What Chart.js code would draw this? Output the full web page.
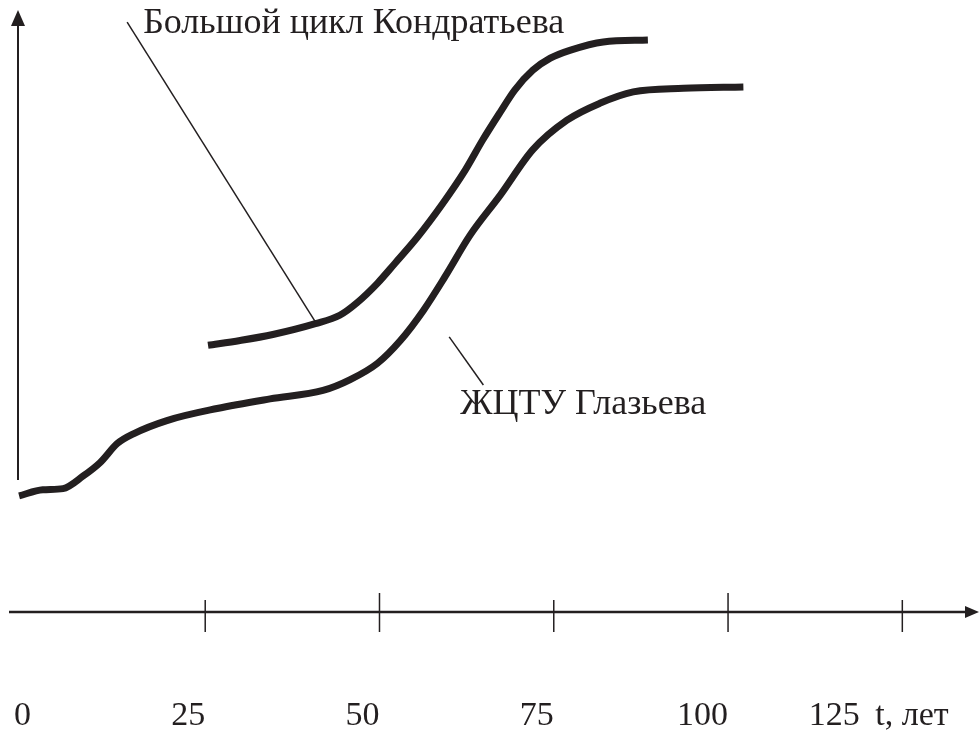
<!DOCTYPE html>
<html>
<head>
<meta charset="utf-8">
<script src="https://cdn.jsdelivr.net/npm/chart.js@4/dist/chart.umd.min.js"></script>
<style>
  html, body { margin: 0; padding: 0; background: #fff; }
</style>
</head>
<body>
<canvas id="cycleChart" width="979" height="733"></canvas>
<script>
// t axis labels, years
const tickYears = [0, 25, 50, 75, 100, 125];

// Большой цикл Кондратьева
const kondYears = [25.4, 30.0, 34.7, 40.8, 44.3, 46.8, 49.7, 52.2, 55.4, 59.1, 62.3, 64.8, 67.3, 69.4, 72.0, 74.5, 77.3, 82.1, 88.5];
const kondValues = [44.3, 45.1, 46.1, 47.9, 49.3, 51.4, 54.6, 57.9, 62.2, 67.9, 73.4, 78.4, 83.0, 86.7, 90.0, 92.0, 93.3, 94.7, 95.0];

// ЖЦТУ Глазьева
const glazYears = [-1.7, 1.7, 4.6, 7.5, 9.9, 12.4, 14.7, 19.5, 26.7, 34.3, 41.9, 45.8, 49.7, 53.0, 56.3, 59.4, 63.0, 67.3, 72.0, 76.9, 81.6, 86.4, 93.6, 102.2];
const glazValues = [19.3, 20.3, 20.5, 22.6, 24.8, 28.0, 29.6, 31.8, 33.8, 35.4, 36.8, 38.6, 41.3, 45.1, 50.1, 55.7, 62.6, 69.2, 76.8, 81.7, 84.5, 86.4, 87.0, 87.2];

const ink = '#231f20';
const serif = '"Liberation Serif", "Times New Roman", serif';

// captions with their leader lines (anchored in data units)
const notes = [
  { text: 'Большой цикл Кондратьева', at: [16.1, 96.2], from: [13.8, 98.0], to: [40.8, 48.2] },
  { text: 'ЖЦТУ Глазьева', at: [61.6, 32.9], from: [60.0, 45.7], to: [64.9, 37.7] }
];

function toPoints(xs, ys) {
  return xs.map((t, i) => ({ x: t, y: ys[i] }));
}

// hand-drawn looking axes, tick marks and captions
const sketchAxes = {
  id: 'sketchAxes',
  afterDraw(chart) {
    const { ctx, chartArea: a, scales: { x, y } } = chart;
    ctx.save();
    ctx.strokeStyle = ink;
    ctx.fillStyle = ink;

    // vertical axis
    const ax = a.left + 1;
    ctx.lineWidth = 2;
    ctx.beginPath();
    ctx.moveTo(ax, a.bottom - 132);
    ctx.lineTo(ax, a.top + 12);
    ctx.stroke();
    ctx.beginPath();
    ctx.moveTo(ax, a.top);
    ctx.lineTo(ax - 7, a.top + 16);
    ctx.lineTo(ax + 7, a.top + 16);
    ctx.closePath();
    ctx.fill();

    // horizontal axis
    const ay = a.bottom;
    ctx.lineWidth = 2.5;
    ctx.beginPath();
    ctx.moveTo(a.left - 8, ay);
    ctx.lineTo(chart.width - 10, ay);
    ctx.stroke();
    ctx.beginPath();
    ctx.moveTo(chart.width, ay);
    ctx.lineTo(chart.width - 14, ay - 6);
    ctx.lineTo(chart.width - 14, ay + 6);
    ctx.closePath();
    ctx.fill();

    // tick marks
    ctx.lineWidth = 1.5;
    tickYears.forEach((t, i) => {
      if (t === 0) return;
      const px = x.getPixelForValue(t);
      const up = (i % 2 === 0) ? 19 : 12;
      ctx.beginPath();
      ctx.moveTo(px, ay - up);
      ctx.lineTo(px, ay + 20);
      ctx.stroke();
    });

    // unit next to the last label
    ctx.font = '34px ' + serif;
    ctx.textBaseline = 'middle';
    ctx.textAlign = 'left';
    ctx.fillText('t, лет', x.getPixelForValue(tickYears[tickYears.length - 1]) - 27, a.bottom + 87 + 17);

    // captions and leaders
    ctx.font = '36px ' + serif;
    ctx.textBaseline = 'alphabetic';
    notes.forEach(n => {
      ctx.lineWidth = 1.5;
      ctx.beginPath();
      ctx.moveTo(x.getPixelForValue(n.from[0]), y.getPixelForValue(n.from[1]));
      ctx.lineTo(x.getPixelForValue(n.to[0]), y.getPixelForValue(n.to[1]));
      ctx.stroke();
      ctx.fillText(n.text, x.getPixelForValue(n.at[0]), y.getPixelForValue(n.at[1]));
    });
    ctx.restore();
  }
};

new Chart(document.getElementById('cycleChart'), {
  type: 'line',
  data: {
    datasets: [
      {
        label: 'Большой цикл Кондратьева',
        data: toPoints(kondYears, kondValues),
        borderColor: ink,
        borderWidth: 7,
        pointRadius: 0,
        cubicInterpolationMode: 'monotone',
        fill: false
      },
      {
        label: 'ЖЦТУ Глазьева',
        data: toPoints(glazYears, glazValues),
        borderColor: ink,
        borderWidth: 7,
        pointRadius: 0,
        cubicInterpolationMode: 'monotone',
        fill: false
      }
    ]
  },
  options: {
    responsive: false,
    animation: false,
    layout: { padding: { left: 17, top: 10, right: 0, bottom: 0 } },
    plugins: {
      legend: { display: false },
      tooltip: { enabled: false }
    },
    scales: {
      x: {
        type: 'linear',
        min: -2,
        max: 136,
        afterBuildTicks: s => { s.ticks = tickYears.map(v => ({ value: v })); },
        afterFit: s => { s.paddingLeft = 0; s.paddingRight = 0; s.height = 121; },
        grid: { display: false, drawTicks: false },
        border: { display: false },
        ticks: {
          align: 'end',
          padding: 87,
          autoSkip: false,
          maxRotation: 0,
          color: ink,
          font: { family: serif, size: 34, lineHeight: 1 },
          // the last label sits left of its mark to leave room for the unit
          callback: (v, i, ticks) => i === ticks.length - 1 ? v + '     ' : String(v)
        }
      },
      y: { display: false, min: 0, max: 100 }
    }
  },
  plugins: [sketchAxes]
});
</script>
</body>
</html>
